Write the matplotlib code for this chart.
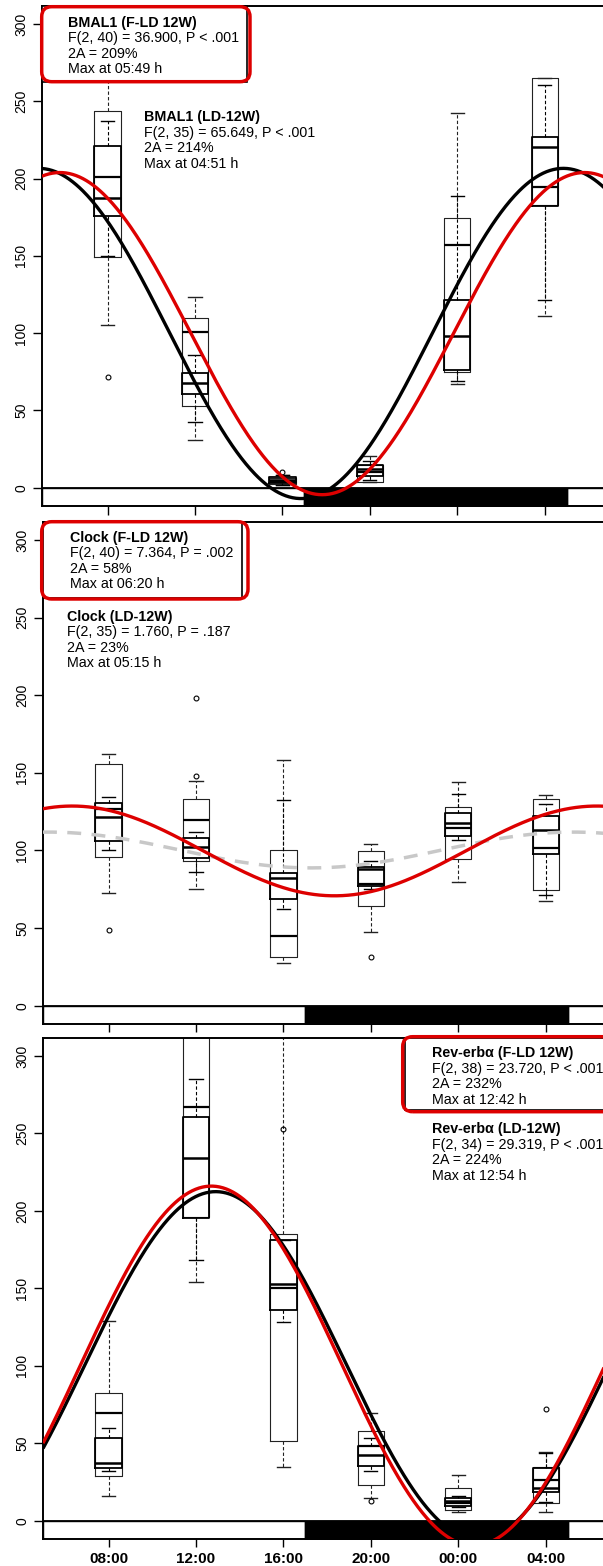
import numpy as np
import matplotlib.pyplot as plt
from matplotlib.patches import FancyBboxPatch, Rectangle

plt.rcParams['font.family'] = ['Liberation Sans', 'DejaVu Sans']

### data
times = [8, 12, 16, 20, 24, 28]
time_labels = ['08:00', '12:00', '16:00', '20:00', '00:00', '04:00']
lights_off = 17   # 17:00
lights_on = 29    # 05:00 next day
x_range = (5, 31)
y_range = (-11.8, 311.6)

# box stats per time point: (whislo, q1, med, q3, whishi)
bmal1_ld = [(105, 149.4, 201.2, 243.6, 275), (30.9, 53, 100.9, 109.6, 123.6),
            (1.5, 2.5, 4, 6, 8), (3.5, 4, 10, 15, 20.5),
            (67.1, 74.6, 157, 174.2, 242.6), (111.1, 183, 194.3, 264.8, 264.8)]
bmal1_ld_out = [[71.6], [], [10.3], [], [], []]
bmal1_fld = [(150, 176, 187.4, 221.2, 237.2), (42.5, 60.4, 67.5, 74.4, 85.6),
             (2, 3, 5, 6.7, 8), (5, 7.5, 12, 14.5, 17),
             (69.2, 76, 98.1, 121.4, 188.7), (121.4, 182.2, 220.6, 226.6, 260.5)]
bmal1_fld_out = [[], [], [], [], [], []]

clock_ld = [(72.6, 95.9, 126.5, 155.4, 162.2), (75.4, 93.5, 119.6, 133.2, 145),
            (27.8, 31.5, 44.6, 100.6, 158), (47.2, 64.4, 78.7, 99.5, 104.3),
            (79.5, 94.8, 114.6, 128.2, 144.1), (67.7, 74.3, 101.5, 132.9, 136)]
clock_ld_out = [[48.9], [148, 198], [], [31.3], [], []]
clock_fld = [(100, 106.4, 121.5, 130.8, 134.7), (86, 95, 102, 108, 111.8),
             (62.5, 68.8, 82.1, 85.6, 132.3), (75, 77.4, 87.8, 89.5, 93.3),
             (106.6, 109.2, 117.9, 123.9, 136.2), (71.1, 98, 113.5, 122.1, 130.2)]
clock_fld_out = [[], [], [], [], [], []]

rev_ld = [(16.2, 29.1, 69.4, 82.3, 128.7), (154, 196, 267, 340, 420),
          (34.5, 51.7, 150, 184.8, 330), (14.7, 23.1, 48.5, 57.6, 69.7),
          (5.4, 7, 11.4, 21.3, 29.5), (5.4, 11.4, 26.3, 34.5, 44.6)]
rev_ld_out = [[], [], [252.9], [12.5], [], [72.2]]
rev_fld = [(32.3, 34, 37, 53.5, 60), (168.2, 195.3, 234, 260.9, 285),
           (128.3, 135.8, 152.6, 181, 181), (32, 35.6, 42.7, 48.5, 53.5),
           (8.6, 9.5, 12.5, 14.5, 16.2), (12, 18.3, 20.9, 34, 44)]
rev_fld_out = [[], [], [], [], [], []]

# cosinor fits: mesor, 2A (% of mesor), time of max (h)
bmal1_fit_fld = (99.7, 209, 5 + 49 / 60)
bmal1_fit_ld = (99.8, 214, 4 + 51 / 60)
clock_fit_fld = (99.7, 58, 6 + 20 / 60)
clock_fit_ld = (100.3, 23, 5 + 15 / 60)
rev_fit_fld = (100, 232, 12 + 42 / 60)
rev_fit_ld = (100.2, 224, 12 + 54 / 60)

bmal1_fld_txt = ['BMAL1 (F-LD 12W)', 'F(2, 40) = 36.900, P < .001', '2A = 209%', 'Max at 05:49 h']
bmal1_ld_txt = ['BMAL1 (LD-12W)', 'F(2, 35) = 65.649, P < .001', '2A = 214%', 'Max at 04:51 h']
clock_fld_txt = ['Clock (F-LD 12W)', 'F(2, 40) = 7.364, P = .002', '2A = 58%', 'Max at 06:20 h']
clock_ld_txt = ['Clock (LD-12W)', 'F(2, 35) = 1.760, P = .187', '2A = 23%', 'Max at 05:15 h']
rev_fld_txt = ['Rev-erbα (F-LD 12W)', 'F(2, 38) = 23.720, P < .001', '2A = 232%', 'Max at 12:42 h']
rev_ld_txt = ['Rev-erbα (LD-12W)', 'F(2, 34) = 29.319, P < .001', '2A = 224%', 'Max at 12:54 h']

RED = '#dd0000'
H = 1566

fig = plt.figure(figsize=(6.03, 15.66), dpi=100)


def px_box(x0, y0, x1, y1):
    # pixel box (top-left origin) -> inches for dpi_scale_trans
    return x0 / 100, (H - y1) / 100, (x1 - x0) / 100, (y1 - y0) / 100


def make_axes(top, bottom, left=43):
    w = (x_range[1] - x_range[0]) * 21.86
    ax = fig.add_axes([left / 603, 1 - bottom / H, w / 603, (bottom - top) / H])
    ax.set_xlim(x_range)
    ax.set_ylim(y_range)
    ax.set_yticks(range(0, 301, 50))
    ax.set_yticklabels([str(v) for v in range(0, 301, 50)], rotation=90, va='center', fontsize=10)
    ax.set_xticks(times)
    ax.tick_params(axis='y', length=6.5, width=1.0, pad=3.5)
    ax.tick_params(axis='x', length=5.5, width=1.0, pad=4)
    for s in ['left', 'top', 'bottom']:
        ax.spines[s].set_linewidth(1.4)
    ax.spines['right'].set_visible(False)
    # light / dark bar
    ax.broken_barh([(x_range[0], lights_off - x_range[0]), (lights_on, x_range[1] - lights_on)],
                   (y_range[0], -y_range[0]), facecolors='white', edgecolors='k', lw=1, zorder=1)
    ax.broken_barh([(lights_off, lights_on - lights_off)], (y_range[0], -y_range[0]),
                   facecolors='k', edgecolors='k', lw=1, zorder=1)
    ax.axhline(0, color='k', lw=1.3, zorder=1.5)
    return ax


def draw_boxes(ax, stats, outs, box_lw, med_lw, col):
    data = [dict(whislo=s[0], q1=s[1], med=s[2], q3=s[3], whishi=s[4], fliers=o)
            for s, o in zip(stats, outs)]
    ax.bxp(data, positions=times, widths=1.2, manage_ticks=False,
           boxprops=dict(color=col, lw=box_lw),
           medianprops=dict(color='k', lw=med_lw),
           whiskerprops=dict(color=col, lw=0.8, ls=(0, (3, 2))),
           capprops=dict(color=col, lw=1.0),
           flierprops=dict(marker='o', mfc='none', mec='k', ms=3.5, mew=0.8),
           zorder=2)


def draw_fit(ax, fit, color, lw=2.4, ls='-'):
    mesor, amp_pct, peak = fit
    t = np.linspace(x_range[0], x_range[1], 500)
    y = mesor * (1 + amp_pct / 200 * np.cos(2 * np.pi * (t - peak) / 24))
    ax.plot(t, y, color=color, lw=lw, ls=ls, zorder=3, solid_capstyle='butt')


def note(x, y0, lines, step=15.5):
    for i, s in enumerate(lines):
        fig.text(x / 100, (H - (y0 + i * step)) / 100, s, transform=fig.dpi_scale_trans,
                 fontsize=10.3, fontweight='bold' if i == 0 else 'normal',
                 va='center', ha='left', zorder=6)


def legend_box(black, red):
    x, y, w, h = px_box(*black)
    fig.add_artist(Rectangle((x, y), w, h, transform=fig.dpi_scale_trans,
                             fc='white', ec='k', lw=1.2, zorder=4))
    x, y, w, h = px_box(*red)
    fig.add_artist(FancyBboxPatch((x, y), w, h, transform=fig.dpi_scale_trans,
                                  boxstyle='round,pad=0,rounding_size=0.1',
                                  fc='none', ec=RED, lw=2.5, zorder=5))


# panel 1: BMAL1
ax1 = make_axes(6, 506, left=42)
draw_boxes(ax1, bmal1_ld, bmal1_ld_out, 0.8, 1.6, '#222222')
draw_boxes(ax1, bmal1_fld, bmal1_fld_out, 1.3, 1.8, 'k')
draw_fit(ax1, bmal1_fit_ld, 'k')
draw_fit(ax1, bmal1_fit_fld, RED)
ax1.set_xticklabels([])
ax1.tick_params(axis='x', length=6.5)
legend_box((42, 6, 247, 82), (41.7, 6.7, 250, 81.7))
note(68, 22.7, bmal1_fld_txt)
note(144, 117, bmal1_ld_txt)

# panel 2: Clock
ax2 = make_axes(522, 1024)
draw_boxes(ax2, clock_ld, clock_ld_out, 0.8, 1.6, '#222222')
draw_boxes(ax2, clock_fld, clock_fld_out, 1.3, 1.8, 'k')
draw_fit(ax2, clock_fit_ld, '#c8c8c8', lw=2.5, ls=(0, (4, 3)))
draw_fit(ax2, clock_fit_fld, RED)
ax2.set_xticklabels([])
legend_box((43, 522, 242, 598), (41.7, 521.7, 248, 599))
note(70.5, 537.7, clock_fld_txt)
note(66.7, 616.7, clock_ld_txt)

# panel 3: Rev-erb alpha
ax3 = make_axes(1038, 1539)
draw_boxes(ax3, rev_ld, rev_ld_out, 0.8, 1.6, '#222222')
draw_boxes(ax3, rev_fld, rev_fld_out, 1.3, 1.8, 'k')
draw_fit(ax3, rev_fit_ld, 'k')
draw_fit(ax3, rev_fit_fld, RED)
ax3.set_xticklabels(time_labels, fontsize=11, fontweight='bold')
legend_box((405, 1038, 615, 1110), (402.7, 1036.7, 615, 1111.7))
note(431.7, 1053.3, rev_fld_txt, step=15.6)
note(431.7, 1129, rev_ld_txt, step=15.6)

fig.savefig('out.png', dpi=100)
